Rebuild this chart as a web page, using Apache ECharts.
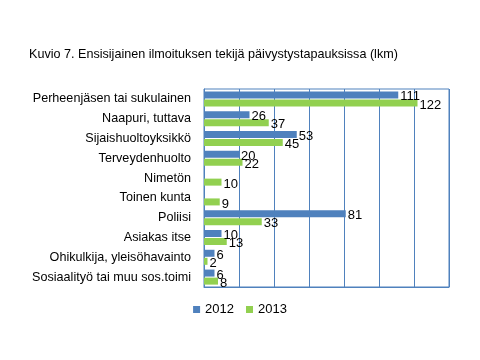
<!DOCTYPE html>
<html><head><meta charset="utf-8">
<script src="https://cdn.jsdelivr.net/npm/echarts@6/dist/echarts.min.js"></script>
<style>html,body{margin:0;padding:0;background:#fff}#c{width:480px;height:360px}</style>
</head><body><div id="c"></div>
<script>
const categories = ["Perheenjäsen tai sukulainen","Naapuri, tuttava","Sijaishuoltoyksikkö","Terveydenhuolto","Nimetön","Toinen kunta","Poliisi","Asiakas itse","Ohikulkija, yleisöhavainto","Sosiaalityö tai muu sos.toimi"];
const values2012 = [111,26,53,20,null,null,81,10,6,6];
const values2013 = [122,37,45,22,10,9,33,13,2,8];
const seriesNames = ["2012","2013"];
const font = "Liberation Sans, Arial, sans-serif";
const chart = echarts.init(document.getElementById('c'), null, {renderer:'canvas'});
const lbl = {show:true, position:'right', distance:2, offset:[0,2], color:'#000', fontSize:13, fontFamily:font};
chart.setOption({
  animation:false,
  title:{text:"Kuvio 7. Ensisijainen ilmoituksen tekijä päivystystapauksissa (lkm)", left:24, top:43,
    textStyle:{fontSize:12.6, fontWeight:'normal', color:'#000', fontFamily:font}},
  legend:{data:seriesNames, left:'center', top:298, itemWidth:7, itemHeight:7, itemGap:12,
    textStyle:{fontSize:13, color:'#000', fontFamily:font}, icon:'rect'},
  grid:{left:204, right:31, top:89, bottom:73, show:true, borderColor:'#4F81BD', borderWidth:1},
  xAxis:{type:'value', min:0, max:140, interval:20, axisLabel:{show:false},
    axisLine:{show:true, lineStyle:{color:'#4F81BD'}}, axisTick:{show:false},
    splitLine:{show:true, lineStyle:{color:'#4F81BD', width:1}}},
  yAxis:{type:'category', data:categories, inverse:true,
    axisLine:{show:true, lineStyle:{color:'#4F81BD'}}, axisTick:{show:false},
    axisLabel:{color:'#000', fontSize:12.6, fontFamily:font, margin:13}},
  series:[
    {name:seriesNames[0], type:'bar', data:values2012, barWidth:7, barGap:'15%', itemStyle:{color:'#4F81BD'}, label:lbl},
    {name:seriesNames[1], type:'bar', data:values2013, barWidth:7, itemStyle:{color:'#92D050'}, label:lbl}
  ]
});
</script></body></html>
